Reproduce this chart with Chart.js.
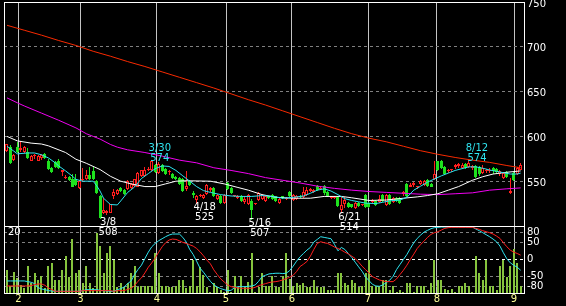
<!DOCTYPE html>
<html>
<head>
<meta charset="utf-8">
<script src="https://cdn.jsdelivr.net/npm/chart.js@4.4.1/dist/chart.umd.min.js"></script>
<style>
  html, body { margin: 0; padding: 0; background: #000; }
  #wrap { position: relative; width: 566px; height: 306px; }
  #wrap canvas { position: absolute; left: 0; top: 0; }
</style>
</head>
<body>
<div id="wrap">
  <canvas id="lower" width="566" height="306"></canvas>
  <canvas id="price" width="566" height="306"></canvas>
</div>
<script>
// month boundaries (in trading-day index units) and their labels
const monthTicks = [3.3, 21.27, 43.51, 63.53, 82.67, 104.72, 124.73, 147.07];
const monthLabels = ["2", "3", "4", "5", "6", "7", "8", "9"];
const priceTicks = [550, 600, 650, 700, 750];
const oscTicks = [80, 50, 0, -50, -80];
const volMax = 20;

// daily candles
const open = [
  584,588,574,588,585,583,583,573,578,573,
  576,580,573,565,571,573,560,554,555,553,
  553,542,551,552,557,561,550,534,515,514,
  515,533,536,542,540,541,542,545,544,556,
  556,562,562,568,559,568,564,560,558,555,
  554,553,541,550,537,529,533,531,536,540,
  542,530,534,526,548,542,533,531,534,527,
  524,528,524,529,530,528,533,535,533,526,
  533,530,538,529,530,534,532,535,539,538,
  545,541,545,538,531,531,532,518,524,526,
  524,520,526,523,535,526,527,528,527,535,
  523,535,527,531,531,536,547,544,546,543,
  547,546,551,547,552,572,572,566,561,562,
  566,567,565,569,566,565,567,566,559,561,
  561,565,564,558,554,560,537,559,558,563
];
const high = [
  592,590,580,594,595,589,587,579,580,579,
  580,581,575,566,573,575,563,557,556,558,
  558,551,565,562,566,566,551,535,531,518,
  525,541,541,543,541,551,548,553,560,563,
  566,566,574,569,571,569,565,562,559,556,
  555,554,561,551,539,535,536,536,547,543,
  543,536,535,536,549,543,535,535,535,533,
  536,530,526,538,536,534,534,536,534,531,
  534,532,539,536,535,535,543,544,542,541,
  546,543,546,539,534,533,533,532,532,527,
  525,527,527,525,536,527,530,529,535,536,
  536,536,532,532,532,539,548,548,549,545,
  551,551,552,548,573,573,574,567,564,564,
  569,570,570,570,574,568,568,567,568,564,
  565,566,565,562,560,561,554,560,566,570
];
const low = [
  583,569,572,582,583,582,575,572,575,572,
  574,575,563,559,565,564,556,552,550,543,
  545,541,550,551,551,551,536,508,513,512,
  514,530,535,538,535,540,541,544,543,555,
  555,561,561,559,558,560,557,557,553,551,
  546,538,539,545,531,525,532,530,535,538,
  532,529,525,525,540,536,532,530,527,525,
  523,507,523,528,529,527,530,529,527,525,
  530,529,532,528,529,531,531,534,538,537,
  539,540,535,532,530,530,521,514,520,520,
  520,519,521,522,520,520,526,522,526,527,
  522,523,526,527,525,533,532,543,544,541,
  546,545,544,543,551,561,564,557,559,560,
  564,565,564,564,565,563,554,556,558,559,
  559,558,559,556,553,554,536,550,557,562
];
const close = [
  591,570,579,583,587,588,576,578,579,578,
  579,576,564,560,566,565,562,555,551,544,
  546,550,553,557,552,552,537,509,518,517,
  524,538,540,539,536,550,547,552,559,562,
  563,564,573,560,569,561,558,561,554,552,
  547,539,545,546,535,534,535,535,546,542,
  533,535,526,535,541,537,534,534,528,530,
  535,518,525,537,535,533,531,530,528,530,
  531,531,533,535,534,532,538,540,541,540,
  540,542,537,533,533,532,522,523,529,521,
  521,526,522,524,521,521,529,523,530,528,
  535,524,531,528,526,538,533,546,548,544,
  550,550,545,544,558,562,565,558,563,563,
  568,569,568,565,570,567,555,558,565,563,
  563,561,560,561,559,555,539,551,565,568
];
const volume = [
  6.9,2,6.2,4.4,2.5,1.5,8.1,3,6.1,3.9,
  5,1.5,8.1,8.9,3.9,3.9,6.9,11,4.9,16.1,
  5.9,6.9,2.9,8.1,2.9,1.5,17.8,14,5.9,11.8,
  14,10,1.9,3.1,1.9,3,5.9,8.1,1.9,2.1,
  2.1,2.1,2.1,12,5.9,2.1,2,1.9,1.9,2,
  3.9,3.9,1.5,2.1,10,2.1,7.9,5.4,1.9,0.4,
  2.9,1.9,0.9,0.4,6.9,0.4,5.1,1.9,5.1,1.9,
  3.4,12,0.4,1.9,6.1,2.1,2.1,5.1,1.9,1.9,
  5.1,12,4.1,2.1,2.9,2.4,2.9,1.9,1.9,3.9,
  1.9,1.9,1.9,0.9,0.9,0.9,6.1,6.1,2.9,2.4,
  3.9,2.9,1.9,2.1,6.1,9.9,2.1,2.1,2.1,3.9,
  3.9,0.9,2.1,0.4,0.9,0.4,3.1,3.1,0.4,2.1,
  2.1,2.1,0.9,3.1,10,3.9,3.9,1.1,0.9,1.1,
  0.4,2.1,2.1,3.1,2.1,0.4,11,6,3.9,10,
  2.1,2.1,0.9,8,10,4.9,8,13,9,2.1
];

// moving averages: [day index, price]
const maCyan = [
  [0,589],[2,583.5],[3,580.5],[6,581.5],[8,581.5],[10,579.5],[12,576],[14,570.5],[15,567],
  [17,561.5],[19,555.5],[20,552],[22,550],[25,550],[26,545],[27,539],[28,531],[30,524],
  [32,523.5],[33,528],[35,537.5],[37,543.5],[39,553],[41,558.5],[43,564],[45,567],[47,566.5],
  [49,562],[51,556],[53,550],[55,544],[57,539.5],[59,537.5],[62,535],[65,533.5],[68,533],
  [71,533],[74,534],[77,533],[80,531],[83,532],[86,533.5],[88,536.5],[90,540],[92,541.5],
  [94,539],[96,535],[98,530.5],[100,528.5],[102,527],[104,525.5],[107,525],[109,526.5],
  [111,528],[114,529],[116,532],[118,540],[120,544.5],[122,549],[124,552.5],[126,556],
  [128,559],[130,562],[132,564],[134,566],[136,566],[138,564.5],[140,562.5],[142,561],
  [144,559.5],[146,558],[148,558],[149,559]
];
const maWhite = [
  [0,600],[3,595],[7,592.5],[10,591.5],[12,589.5],[17,582],[20,574.5],[23,570],[27,563],
  [30,555.5],[33,550],[36,547],[40,544],[43,544],[46,547],[49,550],[52,550.5],[59,550],
  [63,547],[67,543],[70,540],[74,535],[78,532],[83,531],[88,531],[92,533],[97,533],
  [100,531.5],[105,528.5],[110,529],[115,531],[119,532.5],[122,534],[125,536],[128,540],
  [131,544],[135,551],[138,555],[141,558],[145,560],[149,561.5]
];
const maMagenta = [
  [0,643],[3,637.5],[5,634],[10,626],[15,618],[20,609.5],[23,603],[25,600],[27,597],
  [30,591],[32,588],[35,585],[40,582],[45,578],[50,573.5],[55,570.5],[60,565],[65,562],
  [70,558.5],[75,554],[80,551],[85,548],[90,544.5],[95,542],[100,540],[105,538.5],
  [110,537.5],[115,536.5],[120,535.5],[125,535],[130,536],[135,537],[140,540],[145,541.5],
  [149,542.5]
];
const maRed = [
  [0,724],[5,718.5],[10,713],[15,707],[20,701.5],[25,695],[30,689.5],[35,683.5],[40,678],
  [45,672],[50,666],[55,660],[60,654],[65,647.5],[70,641],[75,635],[80,628.5],[85,622],
  [90,615.5],[95,609],[100,603],[105,598],[110,594],[115,589],[120,584],[125,580],
  [130,576.5],[135,573.5],[140,571],[145,567.5],[149,565]
];

// oscillator (-100 .. 100)
const oscFast = [
  -64,-64,-64,-64,-64,-64,-66,-68,-72,-84,
  -88,-90,-93,-94,-95,-95,-95,-95,-95,-95,
  -95,-95,-93,-90,-90,-90,-90,-92,-93,-94,
  -95,-95,-90,-87,-82,-72,-64,-45,-30,-17,
  3,22,38,48,56,62,68,73,76,76,
  76,66,52,30,15,-5,-26,-38,-52,-65,
  -76,-82,-87,-90,-93,-92,-84,-81,-81,-81,
  -80,-79,-76,-65,-51,-47,-43,-42,-41,-41,
  -42,-41,-33,-20,-5,8,18,28,36,52,
  60,68,66,64,62,45,26,36,30,18,
  6,-8,-22,-35,-52,-63,-74,-79,-80,-76,
  -69,-62,-50,-30,-15,0,15,33,50,63,
  73,82,87,92,95,96,97,97,97,97,
  97,97,97,97,97,97,91,86,80,74,
  68,61,53,40,20,2,-10,-17,-23,-32
];
const oscSlow = [
  -79,-79,-79,-79,-79,-79,-79,-78,-75,-73,
  -73,-77,-85,-90,-95,-95,-95,-95,-95,-95,
  -95,-95,-93,-93,-93,-93,-93,-93,-93,-93,
  -93,-95,-93,-93,-93,-89,-86,-78,-65,-55,
  -40,-23,-10,5,22,38,50,58,61,60,
  56,51,48,44,40,33,23,11,-2,-13,
  -31,-45,-58,-67,-76,-81,-83,-85,-86,-86,
  -86,-86,-83,-78,-75,-72,-69,-67,-66,-64,
  -61,-57,-53,-47,-36,-21,-14,-6,10,30,
  48,53,50,48,43,37,33,28,22,17,
  10,3,-8,-20,-30,-40,-51,-56,-61,-64,
  -66,-66,-66,-58,-45,-32,-17,0,16,33,
  45,55,66,75,80,83,88,93,95,96,
  96,96,96,96,96,96,93,90,86,83,
  80,76,70,63,50,38,28,22,18,13
];

// marked highs / lows
const markIdx = [27, 42, 55, 71, 97, 134];
const markDate = ["3/8", "3/30", "4/18", "5/16", "6/21", "8/12"];
const markPrice = [508, 574, 525, 507, 514, 574];
const markKind = ["low", "high", "low", "low", "low", "high"];

const xMin = -0.87, xMax = 149.97;
const RED = "#ff1e1e", GREEN = "#1ee21e", VOL = "#86c43e", CYAN = "#2ee4f0",
      MAGENTA = "#f000f0", MARED = "#f82a00", DASH = "#808080", VLINE = "#c4c4c4";
const FONT = '"DejaVu Sans", "Liberation Sans", sans-serif';

Chart.defaults.font.family = FONT;
Chart.defaults.font.size = 10;
Chart.defaults.color = "#ffffff";

const days = close.map((_, i) => i);
const up = i => close[i] >= open[i];
const pts = arr => arr.map(([x, y]) => ({ x, y }));
const series = arr => arr.map((y, x) => ({ x, y }));

// keep thin bars on whole pixels
const snapBars = {
  id: "snapBars",
  beforeDatasetsDraw(chart) {
    chart.data.datasets.forEach((ds, di) => {
      const meta = chart.getDatasetMeta(di);
      if (meta.type !== "bar") return;
      meta.data.forEach(el => {
        const w = Math.round(el.width);
        el.x = w % 2 ? Math.floor(el.x) + 0.5 : Math.round(el.x);
        el.y = Math.round(el.y);
        el.base = Math.round(el.base);
      });
    });
  }
};

const frame = {
  id: "frame",
  afterDraw(chart) {
    const { ctx, chartArea: a } = chart;
    ctx.save();
    ctx.strokeStyle = "#ffffff";
    ctx.lineWidth = 1;
    ctx.strokeRect(Math.round(a.left) + 0.5, Math.round(a.top) + 0.5,
      Math.round(a.right - a.left), Math.round(a.bottom - a.top));
    ctx.restore();
  }
};

const marks = {
  id: "marks",
  afterDraw(chart) {
    const { ctx, scales: { x, y } } = chart;
    ctx.save();
    ctx.font = "10px " + FONT;
    ctx.textAlign = "center";
    ctx.textBaseline = "middle";
    markIdx.forEach((idx, k) => {
      const px = x.getPixelForValue(idx) + 8;
      const py = y.getPixelForValue(markPrice[k]);
      if (markKind[k] === "high") {
        ctx.fillStyle = CYAN;
        ctx.fillText(markDate[k], px, py - 11);
        ctx.fillText(String(markPrice[k]), px, py - 1.5);
      } else {
        ctx.fillStyle = "#ffffff";
        ctx.fillText(markDate[k], px, py + 4);
        ctx.fillText(String(markPrice[k]), px, py + 13.5);
      }
    });
    ctx.restore();
  }
};

const volLabel = {
  id: "volLabel",
  afterDraw(chart) {
    const { ctx, chartArea: a, scales: { yVol } } = chart;
    ctx.save();
    ctx.font = "10px " + FONT;
    ctx.fillStyle = "#ffffff";
    ctx.textAlign = "left";
    ctx.textBaseline = "middle";
    ctx.fillText(String(volMax), a.left + 4, yVol.getPixelForValue(volMax) + 6);
    ctx.restore();
  }
};

const monthAxis = (showLabels) => ({
  type: "linear",
  min: xMin,
  max: xMax,
  offset: false,
  afterBuildTicks: a => { a.ticks = monthTicks.map(v => ({ value: v })); },
  afterFit: a => { a.height = showLabels ? 13 : 0; a.paddingLeft = 0; a.paddingRight = 0; },
  grid: { offset: false, color: VLINE, drawTicks: false },
  border: { display: false },
  ticks: {
    display: showLabels,
    color: "#ffff99",
    padding: 0,
    autoSkip: false,
    maxRotation: 0,
    callback: (v, i) => monthLabels[i]
  }
});

const rightAxis = (min, max, tickVals, gridColor, offset) => ({
  position: "right",
  min, max,
  afterBuildTicks: a => { a.ticks = tickVals.map(v => ({ value: v })); },
  afterFit: a => { a.width = 42; a.paddingTop = 0; a.paddingBottom = 0; },
  grid: { color: gridColor, drawTicks: false },
  border: { display: false, dash: [3, 3] },
  ticks: { color: "#ffffff", padding: 3, labelOffset: offset, callback: v => String(v) }
});

const lineDs = (data, color, axis) => ({
  type: "line", data, borderColor: color, borderWidth: 1, pointRadius: 0,
  tension: 0, fill: false, order: 0, yAxisID: axis
});

new Chart(document.getElementById("lower"), {
  type: "bar",
  data: {
    datasets: [
      lineDs(series(oscSlow), RED, "yOsc"),
      lineDs(series(oscFast), CYAN, "yOsc"),
      {
        data: days.map(i => ({ x: i, y: volume[i] })),
        backgroundColor: VOL, barThickness: 2, grouped: false, inflateAmount: 0,
        borderWidth: 0, yAxisID: "yVol", order: 1
      }
    ]
  },
  options: {
    responsive: false, animation: false, devicePixelRatio: 1,
    layout: { padding: { left: 4, top: 226, right: 0, bottom: 0 } },
    plugins: { legend: { display: false }, tooltip: { enabled: false } },
    scales: {
      x: monthAxis(true),
      yOsc: rightAxis(-100, 100, oscTicks,
        c => (c.tick && c.tick.value === 0) ? "#ffffff" : DASH, 0),
      yVol: { display: false, min: 0, max: volMax }
    }
  },
  plugins: [snapBars, frame, volLabel]
});

new Chart(document.getElementById("price"), {
  type: "bar",
  data: {
    datasets: [
      lineDs(pts(maCyan), CYAN, "y"),
      lineDs(pts(maWhite), "#ffffff", "y"),
      lineDs(pts(maMagenta), MAGENTA, "y"),
      lineDs(pts(maRed), MARED, "y"),
      {
        data: days.map(i => ({ x: i, y: [open[i], close[i]] })),
        backgroundColor: c => up(c.dataIndex) ? "#000000" : GREEN,
        borderColor: c => up(c.dataIndex) ? RED : GREEN,
        borderWidth: 1, borderSkipped: false, minBarLength: 1,
        barThickness: 3, grouped: false, inflateAmount: 0, order: 1
      },
      {
        data: days.map(i => ({ x: i, y: [low[i], high[i]] })),
        backgroundColor: c => up(c.dataIndex) ? RED : GREEN,
        borderWidth: 0, barThickness: 1, grouped: false, inflateAmount: 0, order: 2
      }
    ]
  },
  options: {
    responsive: false, animation: false, devicePixelRatio: 1,
    layout: { padding: { left: 4, top: 2, right: 0, bottom: 80 } },
    plugins: { legend: { display: false }, tooltip: { enabled: false } },
    scales: {
      x: monthAxis(false),
      y: rightAxis(500, 750, priceTicks,
        c => (c.tick && c.tick.value === 750) ? "rgba(0,0,0,0)" : DASH, 2)
    }
  },
  plugins: [snapBars, frame, marks]
});
</script>
</body>
</html>
